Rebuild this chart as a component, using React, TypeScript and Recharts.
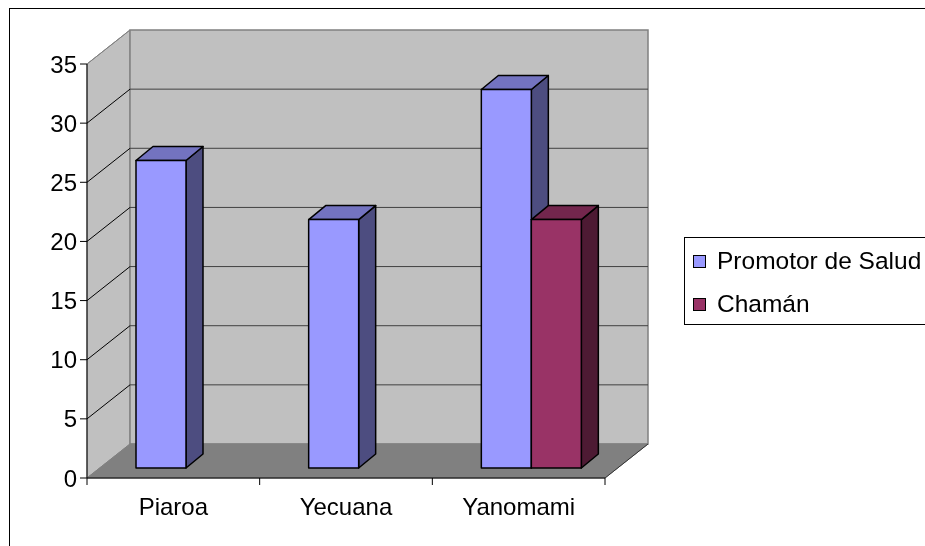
import { BarChart, Bar, XAxis, YAxis, ReferenceArea, Legend } from 'recharts';

const categories = ['Piaroa', 'Yecuana', 'Yanomami'];
const promotorValues = [26, 21, 32];
const chamanValues = [0, 0, 21];
const yTicks = [0, 5, 10, 15, 20, 25, 30, 35];
const seriesNames = ['Promotor de Salud', 'Chamán'];

const data = categories.map((name, i) => ({
  name,
  promotor: promotorValues[i],
  chaman: chamanValues[i],
}));

// oblique projection of the wall depth and of the bar depth
const DEPTH_X = 43;
const DEPTH_Y = 34;
const BAR_OFF_X = 13;
const BAR_OFF_Y = 10;
const BAR_DX = 17;
const BAR_DY = 14;

const PLOT_W = 518;
const FONT = '"Liberation Sans", Arial, sans-serif';

const SERIES = [
  { key: 'promotor', front: '#9999FF', top: '#7373C0', side: '#4D4D80' },
  { key: 'chaman', front: '#993366', top: '#73264D', side: '#4D1A33' },
];

function Walls(props: any) {
  const { x, y, width, height } = props;
  const L = x, T = y, R = x + width, B = y + height;
  const max = yTicks[yTicks.length - 1];
  return (
    <g>
      <polygon
        points={`${L},${T} ${L + DEPTH_X},${T - DEPTH_Y} ${L + DEPTH_X},${B - DEPTH_Y} ${L},${B}`}
        fill="#C0C0C0"
        stroke="#808080"
      />
      <rect x={L + DEPTH_X} y={T - DEPTH_Y} width={width} height={height} fill="#C0C0C0" stroke="#808080" strokeWidth={1.5} />
      <polygon
        points={`${L},${B} ${L + DEPTH_X},${B - DEPTH_Y} ${R + DEPTH_X},${B - DEPTH_Y} ${R},${B}`}
        fill="#808080"
        stroke="#808080"
      />
      <line x1={R} y1={B} x2={R + DEPTH_X} y2={B - DEPTH_Y} stroke="#333" strokeWidth={1} />
      {yTicks.map(v => {
        const yy = B - (v / max) * height;
        if (v === 0) return null;
        const edge = v === max;
        return (
          <g key={v}>
            {!edge && (
              <line x1={L + DEPTH_X} y1={yy - DEPTH_Y} x2={R + DEPTH_X} y2={yy - DEPTH_Y} stroke="#404040" strokeWidth={1} />
            )}
            <line x1={L} y1={yy} x2={L + DEPTH_X} y2={yy - DEPTH_Y} stroke={edge ? '#808080' : '#000'} strokeWidth={1} />
          </g>
        );
      })}
    </g>
  );
}

function Box3D(props: any) {
  const { x, y, width, height, front, top, side } = props;
  if (!height || height <= 0) return null;
  const fx = x + BAR_OFF_X;
  const fy = y - BAR_OFF_Y;
  const w = width;
  const h = height;
  return (
    <g stroke="#000" strokeWidth={1.5} strokeLinejoin="round">
      <polygon
        points={`${fx + w},${fy} ${fx + w + BAR_DX},${fy - BAR_DY} ${fx + w + BAR_DX},${fy + h - BAR_DY} ${fx + w},${fy + h}`}
        fill={side}
      />
      <polygon
        points={`${fx},${fy} ${fx + BAR_DX},${fy - BAR_DY} ${fx + w + BAR_DX},${fy - BAR_DY} ${fx + w},${fy}`}
        fill={top}
      />
      <rect x={fx} y={fy} width={w} height={h} fill={front} />
    </g>
  );
}

function CategoryTick(props: any) {
  const { x, y, payload, index } = props;
  const axisY = y - 8;
  const half = PLOT_W / categories.length / 2;
  return (
    <g>
      <line x1={x - half} y1={axisY} x2={x - half} y2={axisY + 7} stroke="#000" />
      {index === categories.length - 1 && (
        <line x1={x + half} y1={axisY} x2={x + half} y2={axisY + 7} stroke="#000" />
      )}
      <text x={x} y={axisY + 37} textAnchor="middle" fontSize={24} fill="#000" fontFamily={FONT}>
        {payload.value}
      </text>
    </g>
  );
}

function LegendBox() {
  return (
    <div
      style={{
        border: '1px solid #000',
        background: '#fff',
        width: 300,
        height: 88,
        boxSizing: 'border-box',
        position: 'relative',
        fontFamily: FONT,
        fontSize: 24.5,
      }}
    >
      {seriesNames.map((name, i) => (
        <div key={name} style={{ position: 'absolute', left: 8, top: 9 + i * 43, height: 28, display: 'flex', alignItems: 'center' }}>
          <span
            style={{
              display: 'inline-block',
              width: 11,
              height: 11,
              border: '1px solid #000',
              background: SERIES[i].front,
              marginRight: 11,
            }}
          />
          <span style={{ lineHeight: '28px', whiteSpace: 'nowrap' }}>{name}</span>
        </div>
      ))}
    </div>
  );
}

export default function App() {
  return (
    <div style={{ position: 'fixed', left: 9, top: 8, width: 916, height: 538, overflow: 'hidden', fontFamily: FONT }}>
      <div style={{ width: 1000, height: 600, border: '1px solid #000', boxSizing: 'border-box' }}>
        <BarChart
          width={998}
          height={560}
          data={data}
          margin={{ top: 55, right: 403, bottom: 31, left: 0 }}
          barGap={0}
          barSize={50}
        >
          <ReferenceArea y1={0} y2={35} shape={<Walls />} ifOverflow="visible" />
          <XAxis
            dataKey="name"
            height={60}
            axisLine={{ stroke: '#000' }}
            tickLine={false}
            tickSize={6}
            tickMargin={2}
            interval={0}
            tick={<CategoryTick />}
          />
          <YAxis
            width={77}
            domain={[0, 35]}
            ticks={yTicks}
            interval={0}
            axisLine={{ stroke: '#000' }}
            tickLine={{ stroke: '#000' }}
            tickSize={7}
            tickMargin={3}
            tick={{ fill: '#000', fontSize: 24, fontFamily: FONT }}
          />
          {SERIES.map((s, i) => (
            <Bar
              key={s.key}
              dataKey={s.key}
              name={seriesNames[i]}
              fill={s.front}
              isAnimationActive={false}
              shape={(p: any) => <Box3D {...p} front={s.front} top={s.top} side={s.side} />}
            />
          ))}
          <Legend
            layout="vertical"
            align="center"
            verticalAlign="middle"
            content={() => <LegendBox />}
            wrapperStyle={{ position: 'absolute', left: 674, top: 228, width: 300, height: 88 }}
          />
        </BarChart>
      </div>
    </div>
  );
}
